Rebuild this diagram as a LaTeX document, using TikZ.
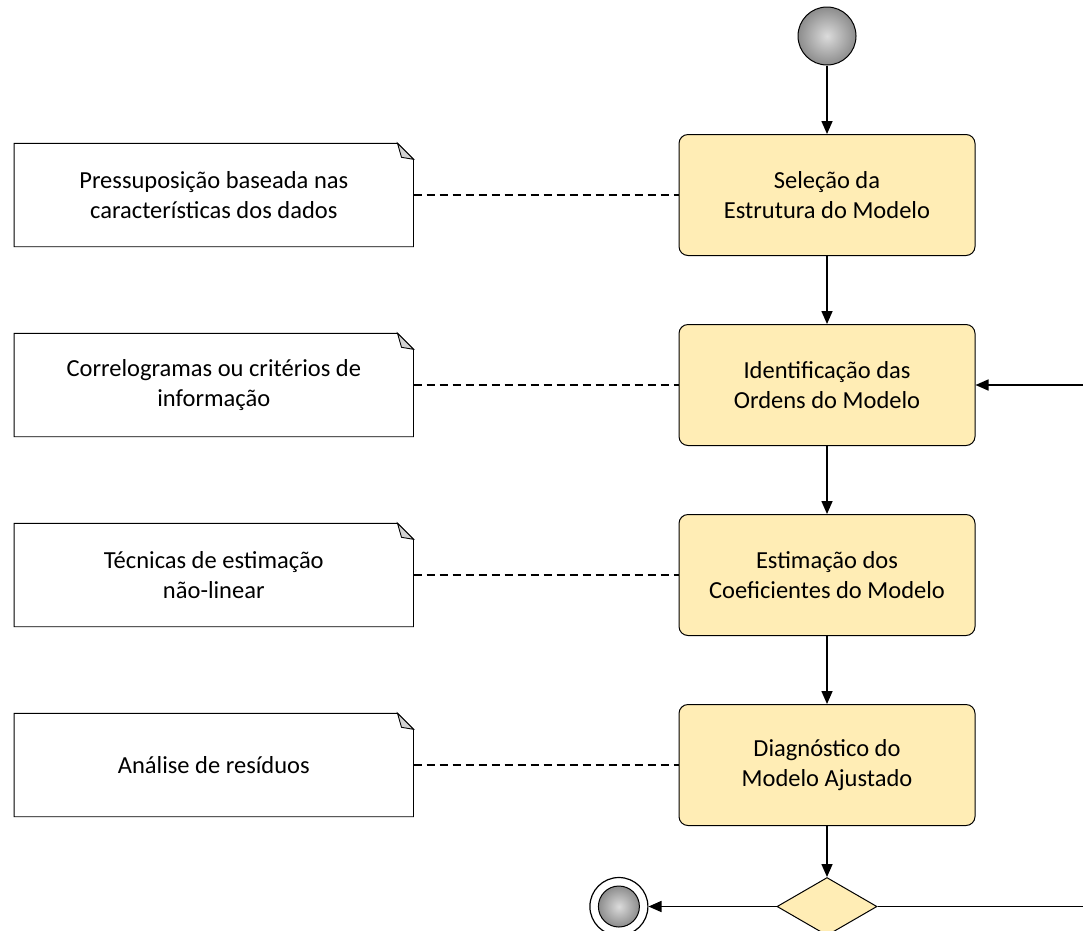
\documentclass[tikz,border=0pt]{standalone}
\usepackage{fontspec}
\setmainfont{Carlito}
\usetikzlibrary{arrows.meta,positioning,shapes.geometric}

\definecolor{stepfill}{HTML}{FFEDB5}
\definecolor{foldgray}{HTML}{D2D2D2}
\pgfdeclareradialshading{orb}{\pgfpoint{0bp}{0bp}}{color(0bp)=(black!14); color(25bp)=(black!45); color(50bp)=(black!75)}

\begin{document}
\begin{tikzpicture}[x=1pt,y=1pt,>={Triangle[length=13pt,width=11pt]},
                    font=\fontsize{24.5}{29.5}\selectfont,
                    flow/.style={->,line width=1.6pt},
                    link/.style={dash pattern=on 8pt off 5pt,line width=1.1pt},
                    activity/.style={draw,line width=1pt,fill=stepfill,rounded corners=9pt,
                      minimum width=296pt,minimum height=121pt,align=center,inner sep=0pt},
                    note/.style={minimum width=399pt,minimum height=103pt,align=center,inner sep=0pt},
                    orb/.style={circle,draw,line width=1pt,shading=orb,inner sep=0pt}]

  \useasboundingbox (0,0) rectangle (1083,-930);

  % activities
  \node[orb,minimum size=58pt] (start) at (827,-36) {};
  \node[activity]              (s1) at (827,-195)     {Seleção da\\Estrutura do Modelo};
  \node[activity]              (s2) [below=68pt of s1] {Identificação das\\Ordens do Modelo};
  \node[activity]              (s3) [below=68pt of s2] {Estimação dos\\Coeficientes do Modelo};
  \node[activity]              (s4) [below=68pt of s3] {Diagnóstico do\\Modelo Ajustado};
  \node[diamond,draw,line width=1pt,fill=stepfill,minimum width=100pt,minimum height=58pt,
        aspect=1.75,inner sep=0pt] (dec) [below=51pt of s4] {};
  \node[circle,draw,line width=1.2pt,fill=white,minimum size=58pt,inner sep=0pt]
        (end) [left=128pt of dec] {};
  \node[orb,minimum size=41pt] (endcore) at (end) {};

  % notes
  \node[note] (n1) [left=265pt of s1] {Pressuposição baseada nas\\características dos dados};
  \node[note] (n2) [left=265pt of s2] {Correlogramas ou critérios de\\informação};
  \node[note] (n3) [left=265pt of s3] {Técnicas de estimação\\não-linear};
  \node[note] (n4) [left=265pt of s4] {Análise de resíduos};

  \foreach \n in {n1,n2,n3,n4}{
    \draw[line width=0.9pt] (\n.south west) -- (\n.north west) -- ([xshift=-16pt]\n.north east)
      -- ([yshift=-16pt]\n.north east) -- (\n.south east) -- cycle;
    \draw[line width=0.9pt,fill=foldgray] ([xshift=-16pt]\n.north east)
      -- ([xshift=-12pt,yshift=-14pt]\n.north east) -- ([yshift=-16pt]\n.north east) -- cycle;
  }

  % connectors
  \draw[flow] (start) -- (s1);
  \draw[flow] (s1) -- (s2);
  \draw[flow] (s2) -- (s3);
  \draw[flow] (s3) -- (s4);
  \draw[flow] (s4) -- (dec);
  \draw[flow] (dec) -- (end);

  \coordinate (rim) at (1083,0);
  \draw[line width=1.6pt] (dec.east) -- (dec.east -| rim);
  \draw[flow] (s2.east -| rim) -- (s2.east);

  \foreach \i in {1,2,3,4}
    \draw[link] (n\i) -- (s\i);
\end{tikzpicture}
\end{document}
